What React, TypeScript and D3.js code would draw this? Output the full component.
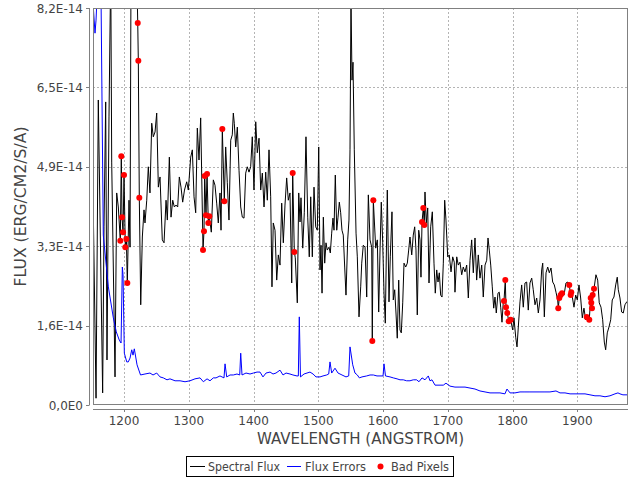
import React from 'react';
import * as d3 from 'd3';

const fluxWave = [
1152.6,1156.8,1160.3,1167.0,1169.1,1171.7,1173.7,1176.8,1179.5,1181.0,
1186.1,1188.7,1191.2,1194.3,1195.8,1196.9,1198.5,1200.0,1202.0,1203.6,
1205.1,1207.7,1209.3,1210.8,1219.6,1221.2,1222.1,1223.6,1225.8,1228.3,
1230.9,1232.4,1235.1,1237.5,1240.1,1242.8,1245.2,1247.9,1250.5,1253.0,
1255.6,1259.1,1261.8,1264.9,1266.9,1270.0,1272.6,1275.2,1277.7,1280.3,
1282.9,1285.4,1288.0,1290.6,1293.4,1296.8,1299.3,1303.0,1305.5,1308.1,
1310.7,1313.2,1315.8,1318.4,1320.4,1322.0,1323.5,1324.6,1326.6,1328.2,
1330.2,1331.7,1334.8,1337.9,1340.5,1343.1,1345.6,1348.2,1349.8,1351.8,
1354.9,1357.0,1359.5,1362.1,1364.8,1367.2,1368.8,1370.3,1372.5,1375.0,
1377.6,1380.2,1382.7,1385.3,1387.9,1390.4,1393.0,1395.6,1398.1,1400.7,
1403.4,1405.8,1408.5,1411.1,1413.6,1416.2,1418.8,1421.3,1423.9,1426.5,
1428.5,1430.5,1433.2,1435.8,1438.3,1440.9,1443.5,1446.0,1448.6,1451.2,
1453.7,1456.3,1459.0,1460.5,1463.0,1464.5,1467.6,1469.8,1471.8,1473.3,
1476.0,1478.4,1481.0,1483.7,1486.1,1488.3,1490.8,1493.4,1496.0,1498.5,
1500.7,1502.7,1504.2,1505.8,1507.8,1509.9,1511.9,1513.9,1516.6,1518.6,
1520.7,1522.7,1524.3,1526.3,1528.5,1530.5,1532.5,1534.6,1536.6,1538.6,
1540.8,1542.8,1545.4,1547.4,1549.0,1550.5,1552.1,1553.6,1555.6,1558.3,
1560.3,1562.9,1565.5,1567.1,1569.5,1572.2,1574.8,1577.3,1579.9,1582.5,
1583.4,1585.0,1588.7,1591.2,1593.3,1595.3,1597.3,1599.5,1601.5,1603.5,
1606.6,1609.2,1611.2,1613.8,1615.8,1618.0,1620.0,1622.0,1624.2,1626.2,
1628.2,1630.4,1632.4,1635.0,1637.5,1639.6,1641.6,1644.3,1646.7,1648.9,
1650.9,1652.9,1655.1,1657.1,1658.6,1660.2,1662.2,1663.7,1664.8,1666.8,
1669.0,1671.0,1673.6,1676.1,1678.7,1680.7,1682.9,1684.9,1686.9,1689.0,
1691.1,1693.1,1695.2,1697.2,1699.9,1702.3,1705.0,1707.6,1710.0,1711.1,
1713.8,1716.2,1718.8,1721.5,1723.9,1726.6,1729.2,1731.7,1734.3,1736.9,
1739.4,1742.0,1744.6,1747.1,1749.7,1752.4,1754.8,1757.5,1760.1,1762.1,
1764.1,1766.3,1768.7,1770.9,1772.9,1774.9,1777.5,1779.5,1781.7,1783.7,
1785.7,1786.8,1788.8,1789.9,1791.9,1794.1,1797.1,1800.2,1802.2,1804.9,
1806.9,1808.9,1811.5,1814.1,1816.6,1819.2,1821.8,1824.3,1826.9,1829.6,
1832.0,1834.7,1837.3,1839.8,1842.4,1845.0,1846.6,1849.1,1851.7,1854.3,
1856.8,1859.4,1862.0,1864.5,1867.1,1869.7,1870.6,1872.2,1874.3,1876.4,
1879.5,1882.5,1885.6,1887.6,1889.8,1890.7,1892.3,1894.9,1897.5,1900.0,
1902.6,1905.2,1907.7,1910.3,1912.9,1914.5,1918.5,1920.7,1921.6,1922.7,
1923.7,1925.8,1928.8,1931.5,1933.9,1936.6,1939.2,1941.7,1943.8,1946.3,
1948.9,1951.6,1954.0,1956.6,1959.3,1961.7,1963.3,1965.9,1968.5,1971.0,
1973.6,1976.3,1978.7
];

// Spectral flux, in units of 1E-14 erg/cm2/s/A
const fluxVal = [
3.97,0.14,6.30,0.25,3.68,6.26,0.93,5.95,9.0,5.00,
0.58,4.38,4.09,3.39,5.14,3.88,3.57,4.75,3.26,3.43,
2.52,4.23,3.26,9.0,9.0,7.89,7.11,4.28,2.07,3.47,
4.03,3.76,4.23,4.92,4.38,5.82,5.54,5.64,6.03,4.50,
4.71,3.41,3.35,4.23,3.82,5.12,3.88,4.23,4.09,4.13,
4.09,4.71,4.50,4.19,4.44,4.61,4.44,5.12,5.27,4.30,
3.97,5.72,5.06,5.93,4.44,3.20,3.59,4.73,3.92,4.77,
3.76,3.90,3.57,4.65,4.54,4.17,3.76,4.38,3.61,5.70,
4.21,5.33,4.59,3.82,5.47,5.58,6.03,5.82,5.33,5.74,
4.85,4.09,3.88,3.86,4.79,4.92,4.81,4.92,5.54,4.44,
5.85,5.21,5.51,4.44,4.79,4.09,4.81,4.23,5.27,4.30,
2.44,3.76,3.61,2.58,3.10,2.89,4.17,3.35,4.13,4.69,
4.23,4.38,2.52,4.79,3.16,3.04,2.11,4.38,3.78,4.28,
3.24,3.97,5.54,3.88,3.06,4.30,3.06,4.50,3.68,3.61,
5.33,2.79,3.30,2.31,3.88,2.93,3.35,3.20,3.26,3.14,
3.55,3.86,3.61,4.75,3.61,3.88,4.19,3.97,3.61,3.51,
2.85,2.27,3.41,3.82,5.27,8.4,6.71,7.08,5.27,3.55,
3.06,1.82,2.44,2.93,3.30,3.26,2.23,4.34,3.41,3.26,
1.32,4.23,3.24,3.41,1.92,3.16,4.19,3.35,2.31,1.69,
4.44,2.13,3.06,3.99,2.17,2.38,1.90,1.38,2.58,1.55,
1.49,2.11,2.93,2.85,2.93,3.20,3.47,3.10,3.51,3.68,
3.20,1.86,3.61,3.41,2.64,3.78,4.07,3.72,4.40,3.76,
4.07,2.52,3.68,3.99,2.93,2.31,2.79,2.54,2.73,2.27,
2.23,2.93,4.23,3.82,3.06,3.10,2.75,3.06,2.95,2.33,
3.06,2.89,2.95,2.69,2.85,2.75,2.89,2.21,2.99,3.41,
2.73,3.45,2.58,3.10,2.62,2.89,2.23,2.89,2.99,3.45,
3.20,2.89,2.44,2.00,2.23,1.90,2.31,2.33,2.02,1.71,
2.13,2.15,2.58,2.02,1.90,1.73,1.76,1.55,1.80,1.40,
1.20,1.61,2.13,2.48,2.02,2.52,2.54,1.96,2.52,2.62,
2.38,2.07,2.21,1.90,2.17,2.79,2.93,1.82,2.73,2.85,
2.73,2.83,2.54,2.48,2.33,2.17,2.00,2.21,2.27,2.31,
2.27,2.52,2.54,2.48,2.27,2.33,2.23,2.02,2.27,2.17,
2.48,2.21,1.80,2.00,1.76,1.82,1.76,2.21,2.11,2.00,
2.27,2.40,2.69,2.58,2.11,2.02,1.76,1.30,1.14,1.49,
1.61,1.76,2.17,2.23,2.48,2.64,2.38,2.21,1.92,1.90,
2.07,2.13,2.11
];

const errWave = [
1152.6,1155.2,1156.8,1163.4,1168.0,1175.8,1183.5,1188.1,1192.7,1195.4,
1197.4,1198.5,1200.5,1204.2,1206.6,1209.3,1211.9,1213.9,1215.9,1220.1,
1225.5,1232.4,1240.1,1244.8,1250.5,1255.6,1260.7,1266.4,1271.0,1278.8,
1286.5,1294.2,1301.9,1309.6,1317.4,1322.5,1328.2,1332.8,1337.9,1342.1,
1348.2,1351.3,1354.4,1356.0,1358.6,1363.7,1368.8,1374.5,1378.7,1380.2,
1382.2,1388.4,1394.6,1399.7,1405.4,1410.0,1414.6,1419.3,1425.5,1430.1,
1434.7,1440.9,1445.5,1450.2,1456.3,1460.9,1467.1,1469.2,1470.7,1472.5,
1478.0,1482.6,1487.2,1491.9,1496.5,1502.7,1507.3,1513.0,1516.1,1518.1,
1520.7,1525.8,1530.5,1536.6,1542.8,1547.0,1549.0,1553.2,1556.7,1560.3,
1563.4,1567.5,1574.8,1579.9,1585.0,1590.7,1595.3,1600.0,1601.5,1603.8,
1610.8,1615.8,1621.6,1626.2,1631.3,1636.5,1641.6,1646.7,1651.9,1655.5,
1660.2,1664.8,1669.9,1672.5,1675.6,1680.3,1688.0,1693.1,1697.2,1703.4,
1711.1,1718.8,1726.6,1734.3,1742.0,1749.7,1757.5,1765.2,1772.9,1780.6,
1788.3,1791.4,1793.8,1796.1,1803.8,1811.5,1819.2,1826.9,1834.7,1842.4,
1850.1,1857.8,1867.1,1873.3,1881.0,1888.8,1896.5,1904.2,1911.9,1919.6,
1927.3,1935.0,1942.8,1950.5,1958.2,1962.8,1965.9,1970.5,1978.2
];

const errVal = [
8.22,7.68,7.95,10.0,3.51,2.44,1.80,1.51,1.34,1.28,
2.85,2.69,1.07,0.89,0.89,0.97,1.14,1.03,1.16,0.83,
0.62,0.64,0.66,0.62,0.66,0.58,0.56,0.52,0.54,0.50,
0.50,0.48,0.50,0.54,0.56,0.48,0.54,0.50,0.56,0.56,
0.60,0.58,0.56,0.85,0.58,0.62,0.62,0.64,0.62,1.07,
0.62,0.66,0.64,0.66,0.68,0.68,0.58,0.66,0.68,0.64,
0.66,0.72,0.62,0.66,0.64,0.62,0.60,0.60,1.82,0.58,
0.64,0.66,0.68,0.64,0.58,0.58,0.60,0.62,0.64,0.89,
0.66,0.76,0.66,0.62,0.58,0.60,1.20,0.83,0.66,0.62,
0.56,0.58,0.60,0.62,0.62,0.60,0.60,0.60,0.85,0.60,
0.58,0.56,0.54,0.52,0.52,0.50,0.50,0.52,0.52,0.48,
0.56,0.52,0.60,0.50,0.52,0.41,0.41,0.41,0.45,0.39,
0.37,0.37,0.37,0.35,0.33,0.29,0.27,0.25,0.25,0.25,
0.23,0.33,0.29,0.25,0.25,0.27,0.27,0.27,0.27,0.27,
0.27,0.27,0.29,0.25,0.25,0.23,0.23,0.23,0.23,0.21,
0.19,0.19,0.17,0.19,0.23,0.25,0.23,0.21,0.21
];

const badWave = [1194.3,1195.8,1196.9,1198.5,1200.0,1202.0,1203.6,1205.1,1221.2,1222.1,1223.6,
1322.0,1323.5,1324.6,1326.6,1328.2,1330.2,1331.7,1351.8,1354.9,1460.5,1463.0,1583.4,1585.0,
1660.2,1662.2,1663.7,1786.8,1788.8,1789.9,1791.9,1794.1,1797.1,1870.6,1872.2,1874.3,1876.4,
1887.6,1889.8,1890.7,1914.5,1918.5,1920.7,1921.6,1922.7,1923.7,1925.8];
const badFlux = [3.39,5.14,3.88,3.57,4.75,3.26,3.43,2.52,7.89,7.11,4.28,
3.20,3.59,4.73,3.92,4.77,3.76,3.90,5.70,4.21,4.79,3.16,1.32,4.23,
3.78,4.07,3.72,2.15,2.58,2.02,1.90,1.73,1.76,2.00,2.21,2.27,2.31,
2.48,2.27,2.33,1.82,1.76,2.21,2.11,2.00,2.27,2.40];

const xTicks = [1200, 1300, 1400, 1500, 1600, 1700, 1800, 1900];
const yTicks = [0, 1.64, 3.28, 4.92, 6.56, 8.2];
const yTickLabels = ['0,0E0', '1,6E-14', '3,3E-14', '4,9E-14', '6,5E-14', '8,2E-14'];
const xTitle = 'WAVELENGTH (ANGSTROM)';
const yTitle = 'FLUX (ERG/CM2/S/A)';
const legendLabels = ['Spectral Flux', 'Flux Errors', 'Bad Pixels'];

export default function App() {
  const W = 640, H = 480;
  const L = 93, R = 628, T = 8, B = 405;
  const x = d3.scaleLinear().domain([1152.1, 1978.3]).range([L, R]);
  const y = d3.scaleLinear().domain([0, 8.2]).range([B, T]);
  const font = "'DejaVu Sans', sans-serif";
  const txt = '#444444';
  const gridColor = '#b4b4b4';

  const fluxPts: [number, number][] = fluxWave.map((w, i) => [w, fluxVal[i]]);
  const errPts: [number, number][] = errWave.map((w, i) => [w, errVal[i]]);
  const line = d3.line<[number, number]>().x(d => x(d[0])).y(d => y(d[1]));

  return (
    <svg width={W} height={H} style={{ position: 'absolute', left: 0, top: 0, background: '#fff' }}
      fontFamily={font}>
      <defs>
        <clipPath id="plotclip">
          <rect x={L} y={T} width={R - L} height={B - T} />
        </clipPath>
      </defs>
      <rect x={0} y={0} width={W} height={H} fill="#fff" />
      {/* grid */}
      {xTicks.map(t => (
        <line key={'gx' + t} x1={Math.round(x(t)) + 0.5} x2={Math.round(x(t)) + 0.5} y1={T} y2={B}
          stroke={gridColor} strokeWidth={1} strokeDasharray="2,2" />
      ))}
      {yTicks.slice(1, -1).map(t => (
        <line key={'gy' + t} x1={L} x2={R} y1={Math.round(y(t)) + 0.5} y2={Math.round(y(t)) + 0.5}
          stroke={gridColor} strokeWidth={1} strokeDasharray="2,2" />
      ))}
      <g clipPath="url(#plotclip)">
        <path d={line(fluxPts) || ''} fill="none" stroke="#000" strokeWidth={1} strokeLinejoin="round" />
        <path d={line(errPts) || ''} fill="none" stroke="#0000ff" strokeWidth={1} strokeLinejoin="round" />
        {badWave.map((w, i) => (
          <circle key={'b' + i} cx={x(w)} cy={y(badFlux[i])} r={3} fill="#ff0000" />
        ))}
      </g>
      {/* plot border */}
      <rect x={L + 0.5} y={T + 0.5} width={R - L - 1} height={B - T - 1} fill="none" stroke="#808080" strokeWidth={1} />
      {/* y axis */}
      <line x1={89.5} x2={89.5} y1={T} y2={B} stroke="#808080" />
      {yTicks.map((t, i) => (
        <g key={'yt' + t}>
          <line x1={86} x2={89.5} y1={Math.round(y(t)) + 0.5} y2={Math.round(y(t)) + 0.5} stroke="#808080" />
          <text x={83} y={y(t) + 4.5} textAnchor="end" fontSize={12} fill={txt}>{yTickLabels[i]}</text>
        </g>
      ))}
      {/* x axis */}
      <line x1={L} x2={R} y1={409.5} y2={409.5} stroke="#808080" />
      {xTicks.map(t => (
        <g key={'xt' + t}>
          <line x1={Math.round(x(t)) + 0.5} x2={Math.round(x(t)) + 0.5} y1={409.5} y2={412} stroke="#808080" />
          <text x={x(t)} y={424.5} textAnchor="middle" fontSize={12} fill={txt}>{t}</text>
        </g>
      ))}
      <text x={(L + R) / 2} y={444} textAnchor="middle" fontSize={15} fill={txt}
        textLength={207} lengthAdjust="spacingAndGlyphs">{xTitle}</text>
      <text transform={`translate(26,${(T + B) / 2}) rotate(-90)`} textAnchor="middle" fontSize={15} fill={txt}
        textLength={160} lengthAdjust="spacingAndGlyphs">{yTitle}</text>
      {/* legend */}
      <rect x={186.5} y={456.5} width={267} height={20} fill="#fff" stroke="#000" strokeWidth={1} />
      <line x1={190} x2={205} y1={466.5} y2={466.5} stroke="#000" />
      <text x={208} y={471} fontSize={12} fill={txt} textLength={72} lengthAdjust="spacingAndGlyphs">{legendLabels[0]}</text>
      <line x1={287} x2={301} y1={466.5} y2={466.5} stroke="#0000ff" />
      <text x={305} y={471} fontSize={12} fill={txt} textLength={61} lengthAdjust="spacingAndGlyphs">{legendLabels[1]}</text>
      <circle cx={380.5} cy={466.5} r={3} fill="#ff0000" />
      <text x={391} y={471} fontSize={12} fill={txt} textLength={58} lengthAdjust="spacingAndGlyphs">{legendLabels[2]}</text>
    </svg>
  );
}
